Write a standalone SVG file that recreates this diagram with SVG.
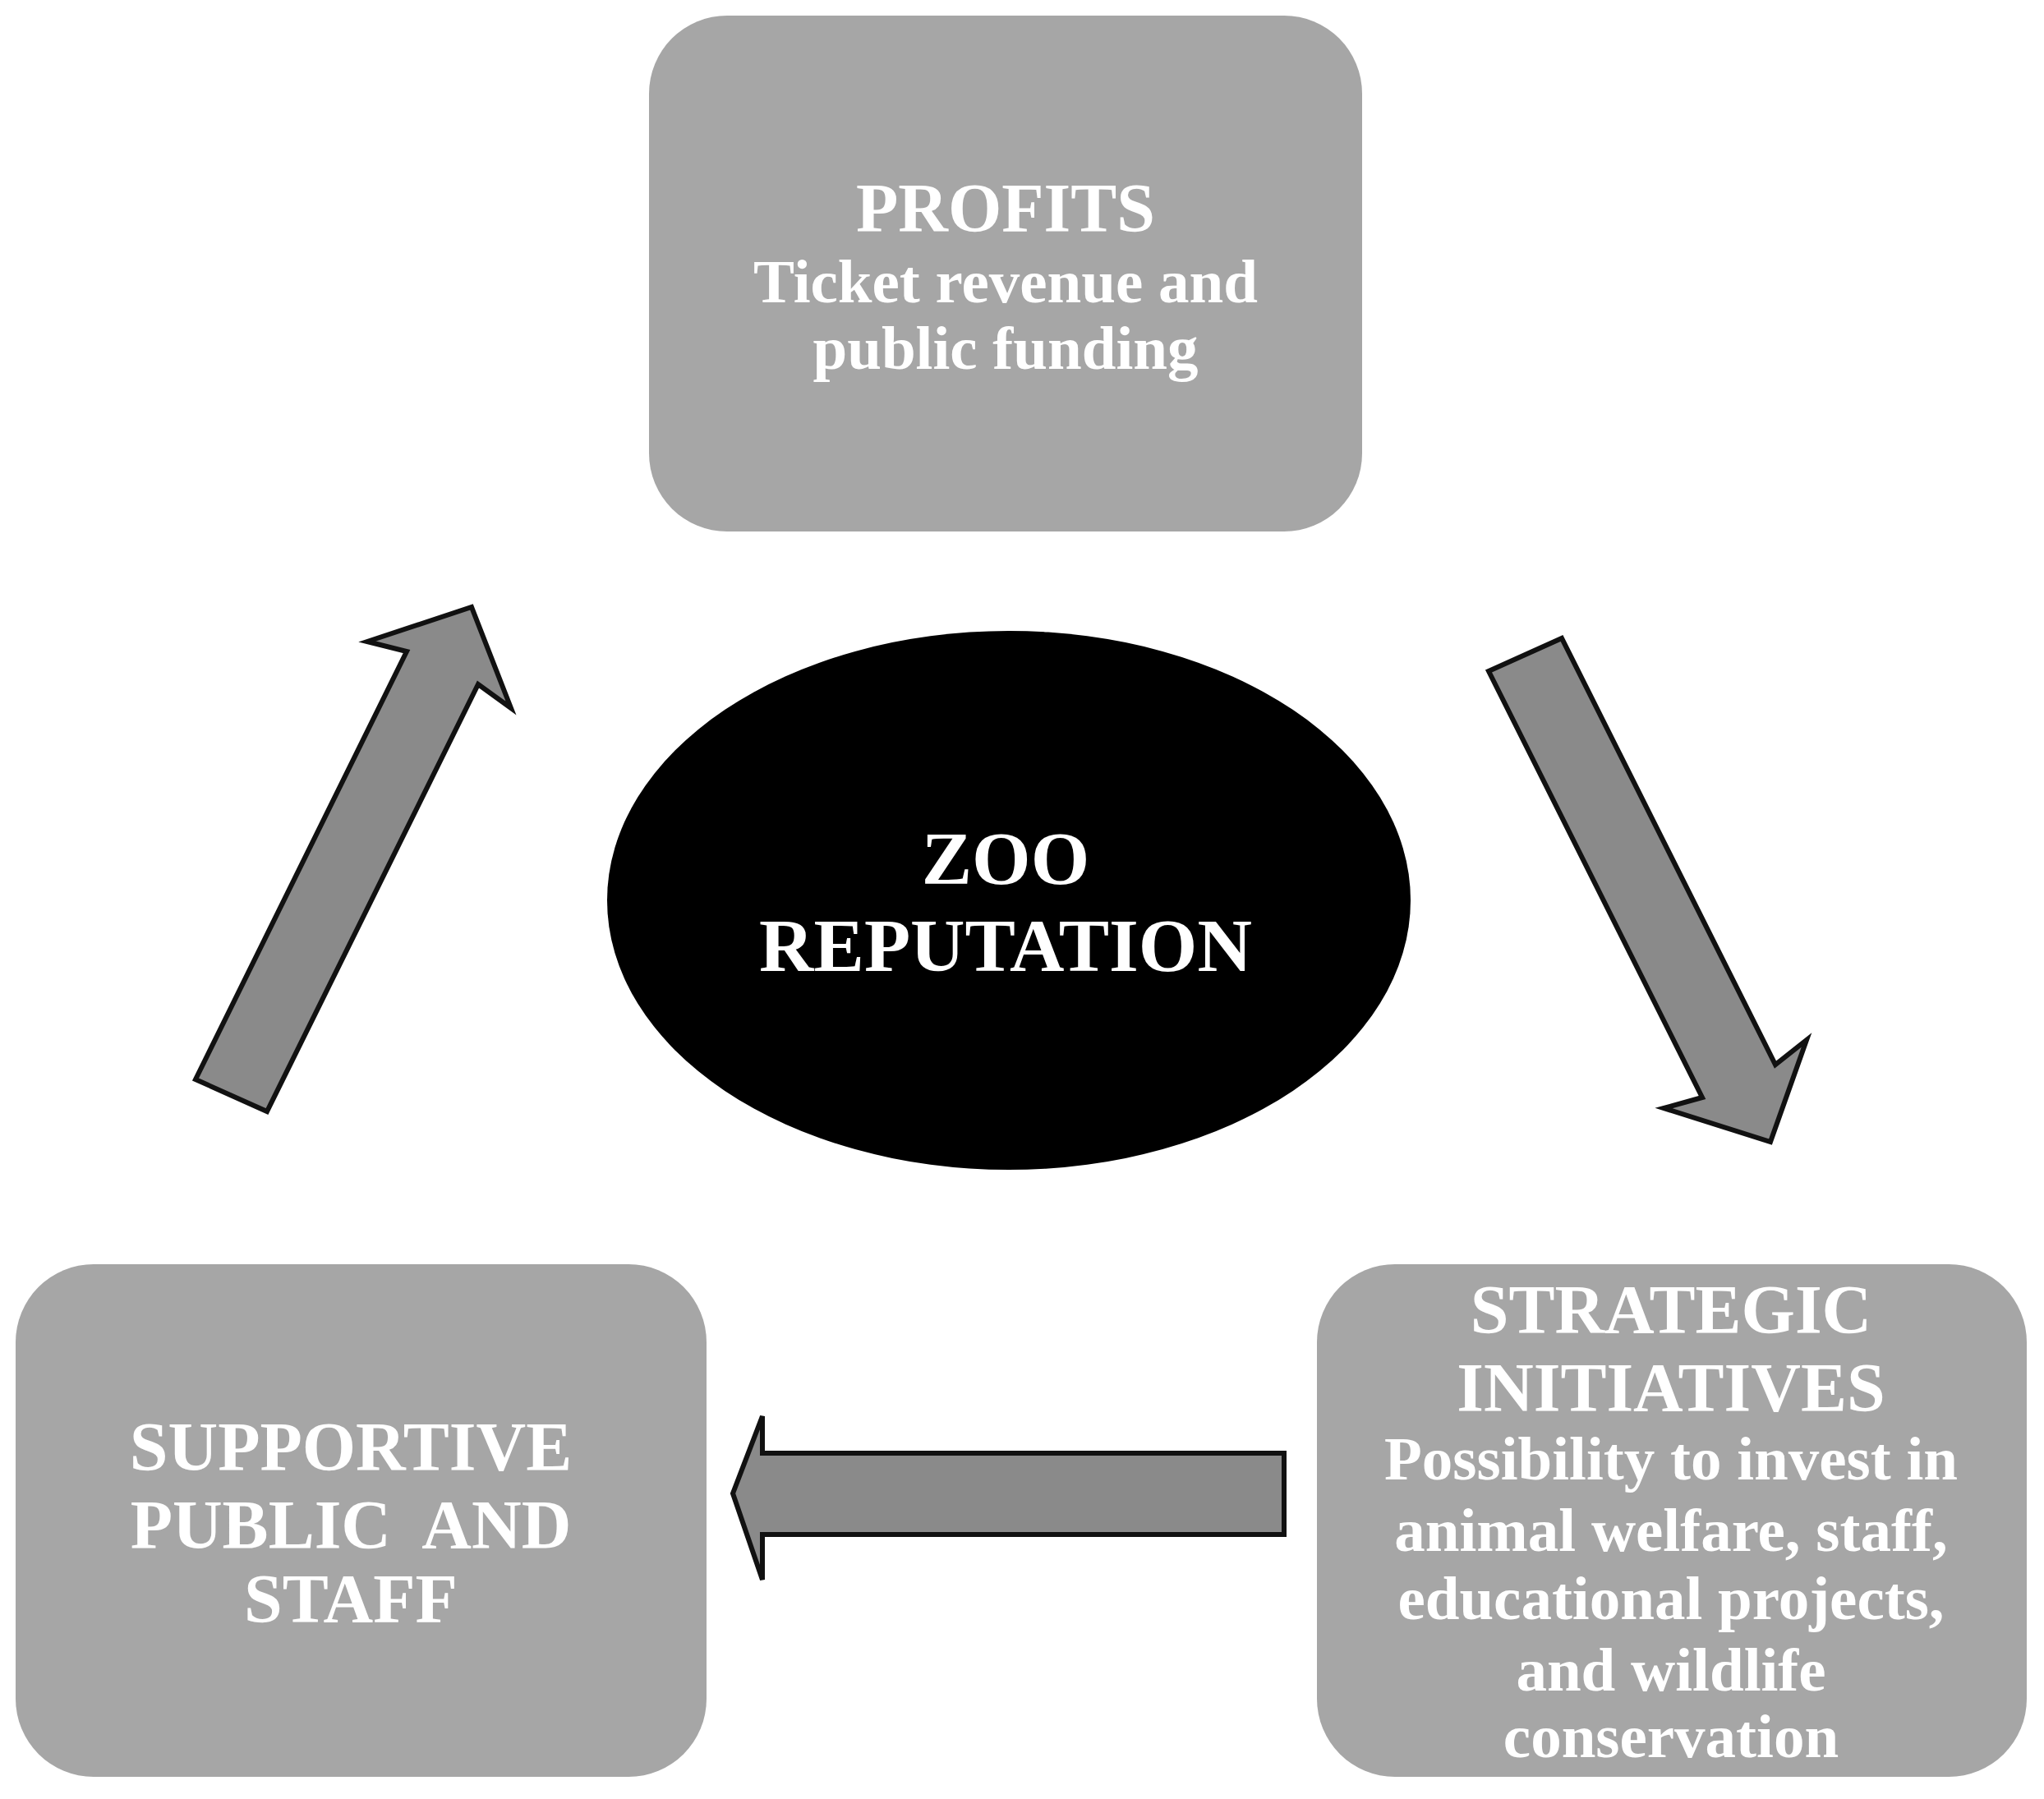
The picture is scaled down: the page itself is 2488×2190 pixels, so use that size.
<svg xmlns="http://www.w3.org/2000/svg" width="2488" height="2190" viewBox="0 0 2488 2190">
<style>
.box{fill:#a6a6a6}
.arrow{fill:#8a8a8a;stroke:#111;stroke-width:6;stroke-linejoin:miter}
.t{font-family:"Liberation Serif","Times New Roman",serif;font-weight:bold;fill:#ffffff;text-anchor:middle}
.h{font-size:84px}
.b{font-size:75px}
.z{font-size:92px}
</style>
<rect width="2488" height="2190" fill="#ffffff"/>
<g id="connectors">
<polygon class="arrow" points="238,1314 495,793 447,781 574,739 622,862 582,833 325,1353"/>
<polygon class="arrow" points="1812,817 1901,777 2161,1296 2199,1266 2155,1390 2025,1349 2072,1336"/>
<polygon class="arrow" points="1563,1769 1563,1868 928,1868 928,1923 892,1818 928,1724 928,1769"/>
</g>
<g id="profits">
<rect class="box" x="790" y="19" width="868" height="628" rx="95" ry="95"/>
<text class="t h" x="1224" y="282">PROFITS</text>
<text class="t b" x="1224" y="368">Ticket revenue and</text>
<text class="t b" x="1224" y="449">public funding</text>
</g>
<g id="zoo-reputation">
<ellipse cx="1228" cy="1096" rx="489" ry="328" fill="#000000"/>
<text class="t z" x="1224" y="1076">ZOO</text>
<text class="t z" x="1224" y="1182">REPUTATION</text>
</g>
<g id="supportive">
<rect class="box" x="19" y="1539" width="841" height="624" rx="95" ry="95"/>
<text class="t h" x="427" y="1790">SUPPORTIVE</text>
<text class="t h" x="427" y="1885" style="white-space:pre">PUBLIC  AND</text>
<text class="t h" x="427" y="1975">STAFF</text>
</g>
<g id="strategic">
<rect class="box" x="1603" y="1539" width="864" height="624" rx="95" ry="95"/>
<text class="t h" x="2034" y="1623">STRATEGIC</text>
<text class="t h" x="2034" y="1718">INITIATIVES</text>
<text class="t b" x="2034" y="1801">Possibility to invest in</text>
<text class="t b" x="2034" y="1888">animal welfare, staff,</text>
<text class="t b" x="2034" y="1971">educational projects,</text>
<text class="t b" x="2034" y="2058">and wildlife</text>
<text class="t b" x="2034" y="2139">conservation</text>
</g>
</svg>
